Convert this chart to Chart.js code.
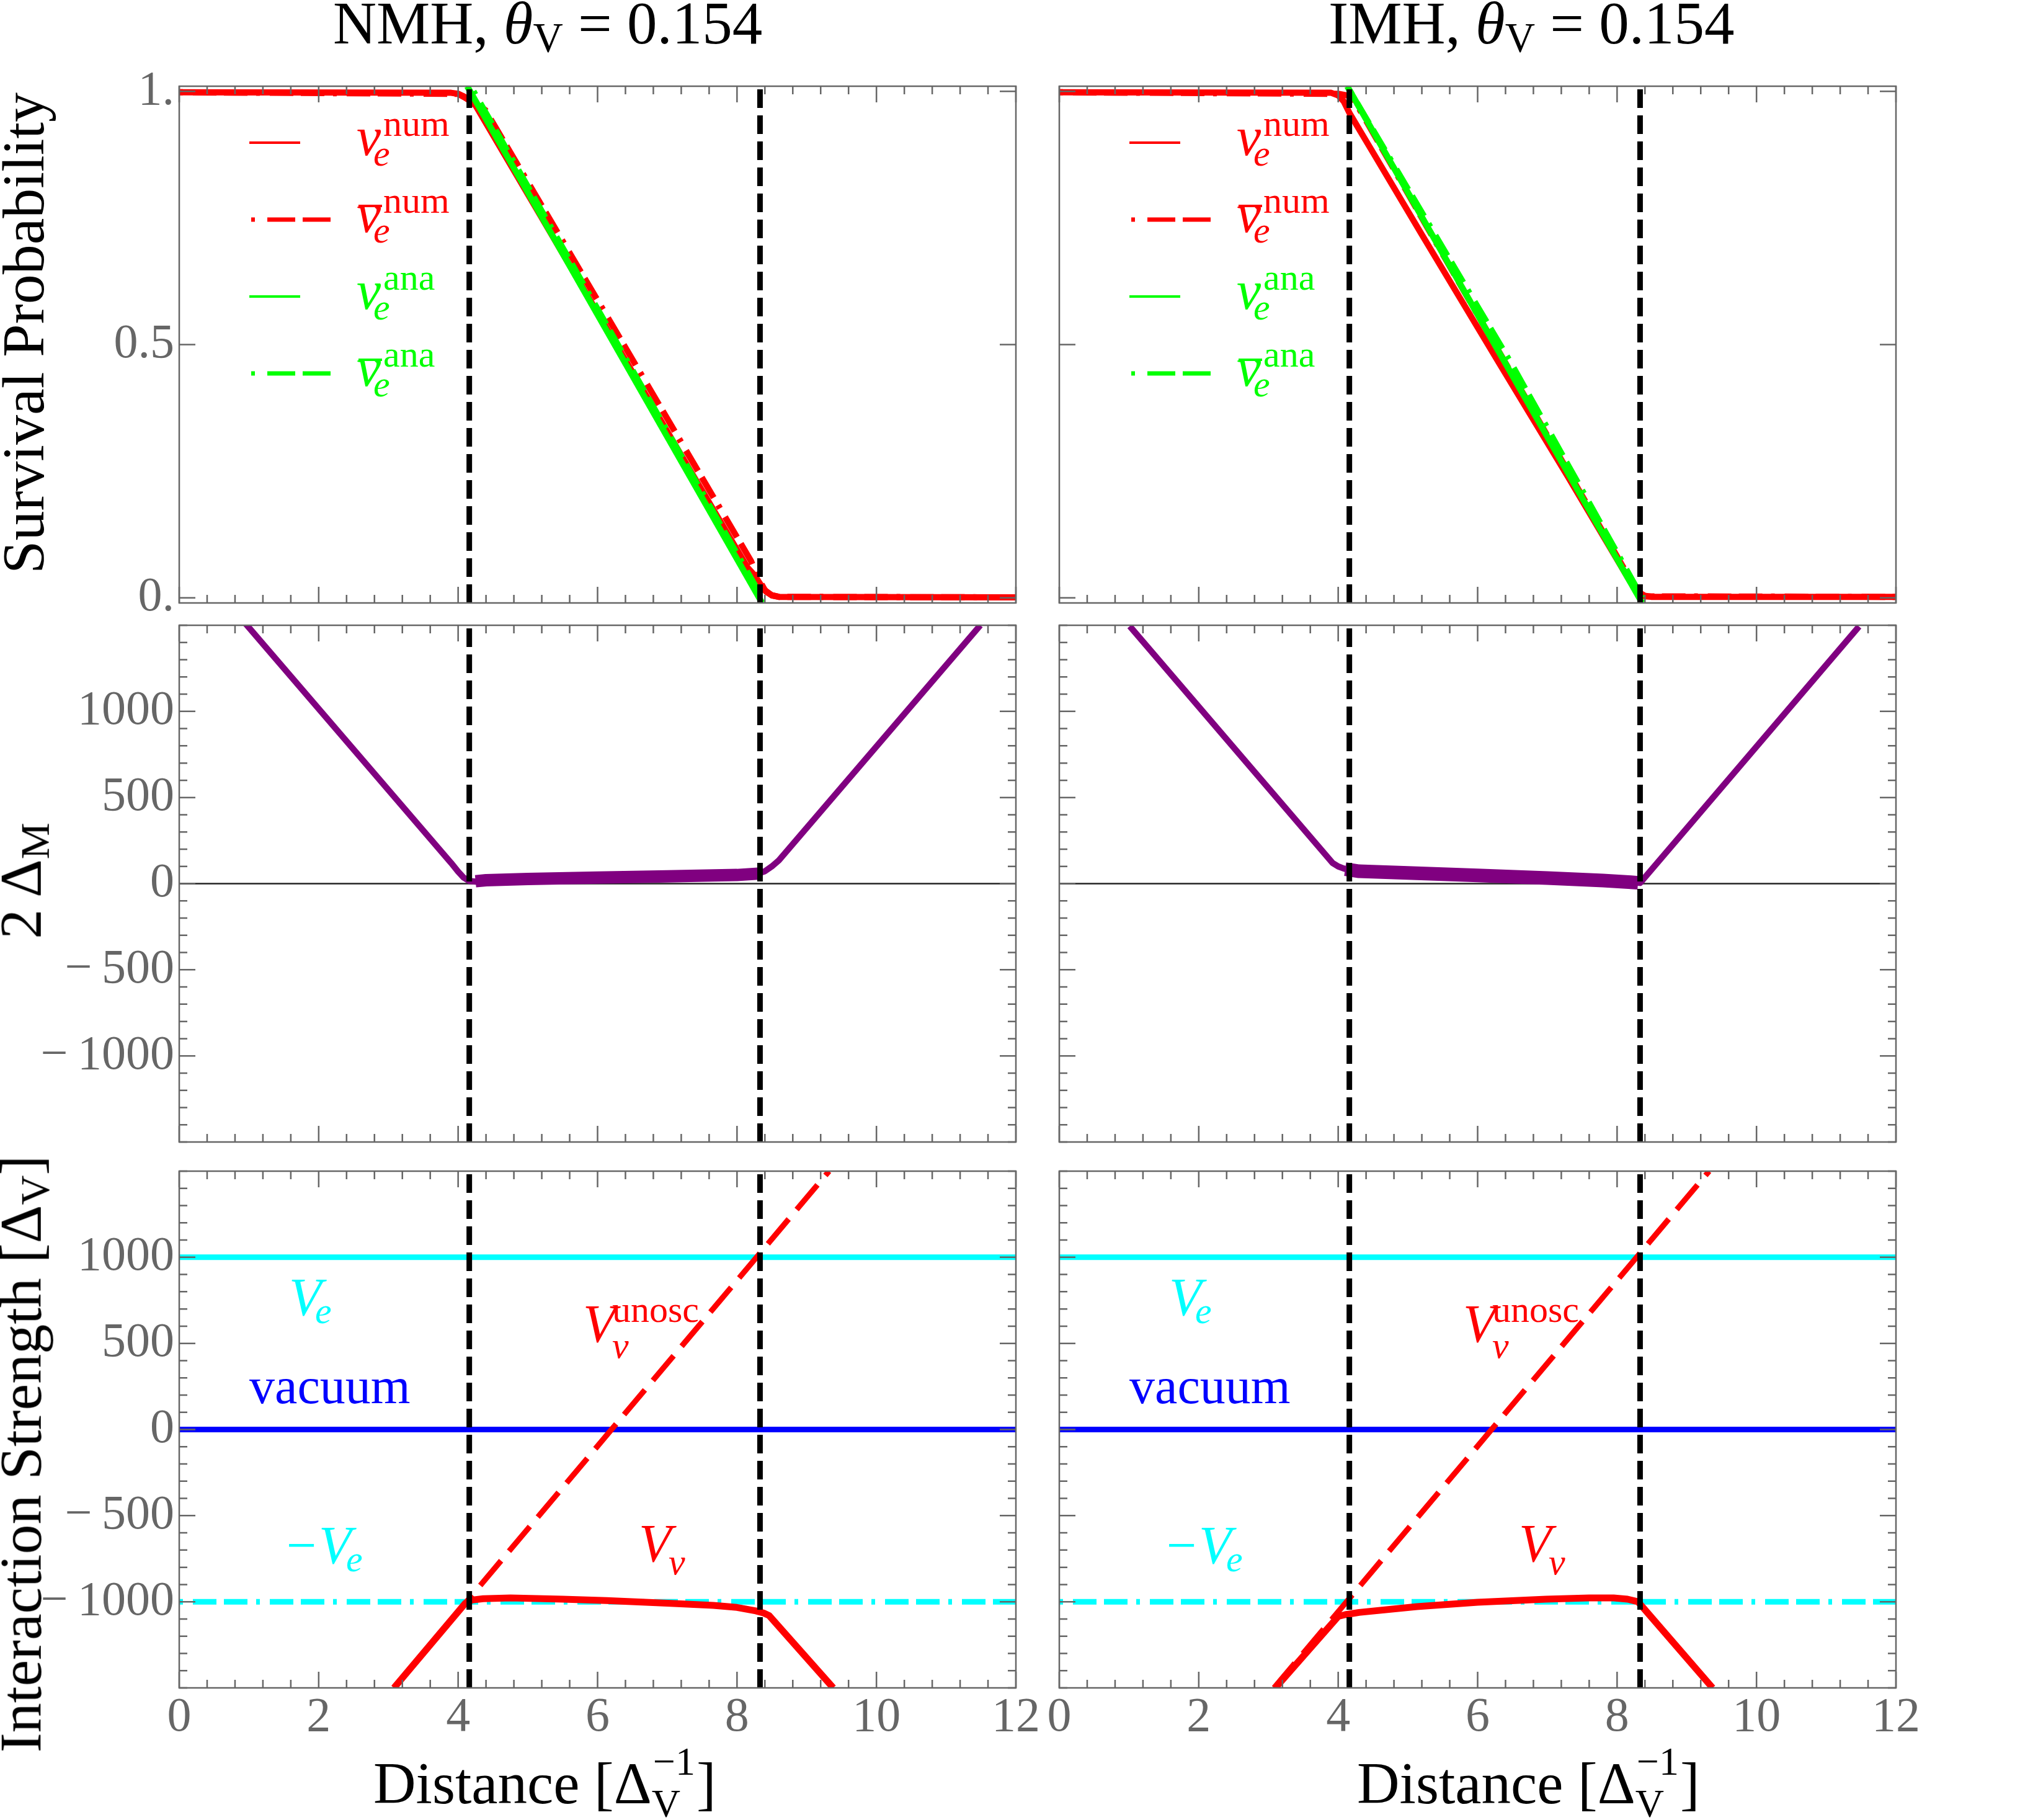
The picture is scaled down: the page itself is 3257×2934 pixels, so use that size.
<!DOCTYPE html>
<html>
<head>
<meta charset="utf-8">
<script src="https://cdn.jsdelivr.net/npm/chart.js@4.4.1/dist/chart.umd.min.js"></script>
<style>
  html, body { margin: 0; padding: 0; background: #fff; }
  body { width: 3257px; height: 2934px; position: relative; overflow: hidden;
         font-family: "Liberation Serif", "Times New Roman", serif; }
  .panel { position: absolute; }
  .t { position: absolute; white-space: nowrap; line-height: 1; }
  .sb { font-size: 0.69em; vertical-align: -0.2em; }
  .rot { position: absolute; white-space: nowrap; line-height: 1; color: #000;
         transform: translate(-50%, -50%) rotate(-90deg); }
</style>
</head>
<body>
<script>
// ---- values ----
const distanceTicks = [0, 2, 4, 6, 8, 10, 12];
const probabilityTicks = [0, 0.5, 1];
const strengthTicks = [-1000, -500, 0, 500, 1000];
const resonanceEdges = [4.16, 8.33];

// survival probability, normal hierarchy
const nmhNuNum = [[0, 0.998], [3.9, 0.997], [4.0, 0.995], [4.08, 0.99], [4.16, 0.982], [4.25, 0.972],
  [5.2, 0.75], [6.34, 0.483], [7.3, 0.258], [8.15, 0.06], [8.25, 0.045], [8.33, 0.028],
  [8.42, 0.012], [8.5, 0.005], [8.6, 0.002], [12, 0.001]];
const nmhNuBarNum = [[0, 0.998], [4.0, 0.995], [4.2, 0.98], [4.39, 0.963], [6.34, 0.508],
  [8.2, 0.073], [8.3, 0.04], [8.4, 0.015], [8.5, 0.005], [8.6, 0.002], [12, 0.001]];
const nmhNuAna = [[4.13, 1.01], [8.36, -0.01]];
const nmhNuBarAna = [[4.22, 1.0], [8.36, 0.0]];

// survival probability, inverted hierarchy
const imhNuNum = [[0, 0.998], [3.9, 0.997], [4.0, 0.992], [4.08, 0.98], [4.17, 0.955], [4.5, 0.879],
  [5.2, 0.717], [6.31, 0.463], [7.3, 0.238], [8.18, 0.034], [8.3, 0.012], [8.4, 0.004],
  [8.5, 0.002], [12, 0.002]];
const imhNuBarNum = [[0, 0.998], [4.0, 0.995], [4.2, 0.99], [5.43, 0.695], [7.06, 0.306],
  [8.3, 0.01], [8.4, 0.003], [12, 0.002]];
const imhNuAna = [[4.13, 1.01], [8.36, -0.01]];
const imhNuBarAna = [[4.17, 1.0], [4.6, 0.9], [6.48, 0.463], [8.36, 0.0]];

// 2 Delta_M
const nmhSplitting = [[0.95, 1510], [3.9, 120], [4.0, 70], [4.08, 35], [4.16, 15], [4.25, 12],
  [4.4, 20], [5.0, 27], [6.0, 35], [7.0, 42], [8.0, 50], [8.3, 58], [8.4, 72], [8.5, 100],
  [8.6, 135], [11.49, 1500]];
const nmhSplittingNoise = [[4.25, 14], [4.4, 20], [5.0, 27], [6.0, 35], [7.0, 42], [8.0, 50], [8.3, 58]];
const imhSplitting = [[1.01, 1495], [3.92, 120], [4.0, 100], [4.08, 88], [4.16, 80], [4.3, 72],
  [5.0, 62], [6.0, 48], [7.0, 32], [7.8, 18], [8.2, 8], [8.33, 4], [11.47, 1493]];
const imhSplittingNoise = [[4.1, 84], [4.3, 72], [5.0, 62], [6.0, 48], [7.0, 32], [7.8, 18], [8.2, 8], [8.3, 5]];
const zeroLevel = [[0, 0], [12, 0]];

// interaction strength
const electronLevel = [[0, 1000], [12, 1000]];
const vacuumLevel = [[0, 0], [12, 0]];
const minusElectronLevel = [[0, -1000], [12, -1000]];
const unoscPotential = [[3.08, -1500], [9.32, 1500]];
const nmhPotential = [[3.08, -1500], [4.1, -1010], [4.2, -990], [4.36, -982], [4.75, -978],
  [5.5, -985], [6.13, -993], [7.0, -1008], [7.66, -1021], [8.0, -1033], [8.27, -1053],
  [8.38, -1065], [8.46, -1080], [9.38, -1500]];
const imhPotential = [[3.1, -1500], [4.0, -1085], [4.1, -1075], [4.3, -1062], [5.13, -1028],
  [6.0, -1003], [6.98, -985], [7.6, -978], [7.95, -978], [8.15, -985], [8.3, -1000], [9.37, -1500]];

// ---- layout ----
const COLS = [289, 1708];
const ROWS = [139, 1008, 1888];
const PLOT_W = 1349;
const PLOT_H = 833;
const PAD = { left: 270, right: 60, top: 60, bottom: 110 };

const RED = "#ff0000", GREEN = "#00ff00", CYAN = "#00ffff", BLUE = "#0000ff", PURPLE = "#800080";
const DOT_DASH = [6, 16, 38, 12, 38, 14];

Chart.defaults.font.family = '"Liberation Serif", "Times New Roman", serif';

function series(points, color, width, dash, order) {
  return {
    data: points.map(([x, y]) => ({ x, y })),
    borderColor: color,
    borderWidth: width,
    borderDash: dash || [],
    borderCapStyle: "butt",
    borderJoinStyle: "round",
    pointRadius: 0,
    fill: false,
    tension: 0,
    clip: 0,
    order,
  };
}

function minorTicks(min, max, step, major) {
  const out = [];
  const n = Math.round((max - min) / step);
  for (let i = 0; i <= n; i++) {
    const v = +(min + i * step).toFixed(6);
    if (!major.some((m) => Math.abs(m - v) < 1e-6)) out.push(v);
  }
  return out;
}

const framePlugin = {
  id: "mmaFrame",
  afterDatasetsDraw(chart) {
    const f = chart.options.plugins.mmaFrame;
    const { ctx, chartArea: a } = chart;
    const xs = chart.scales.x;
    const ys = chart.scales.y;
    ctx.save();
    ctx.strokeStyle = "#666";
    ctx.lineWidth = 2.5;
    ctx.lineCap = "butt";
    ctx.beginPath();
    const xt = (vals, len) => vals.forEach((v) => {
      const p = xs.getPixelForValue(v);
      ctx.moveTo(p, a.bottom); ctx.lineTo(p, a.bottom - len);
      ctx.moveTo(p, a.top); ctx.lineTo(p, a.top + len);
    });
    const yt = (vals, len) => vals.forEach((v) => {
      const p = ys.getPixelForValue(v);
      ctx.moveTo(a.left, p); ctx.lineTo(a.left + len, p);
      ctx.moveTo(a.right, p); ctx.lineTo(a.right - len, p);
    });
    xt(f.xMajor, 26); xt(f.xMinor, 13);
    yt(f.yMajor, 26); yt(f.yMinor, 13);
    ctx.stroke();
    ctx.strokeRect(a.left, a.top, a.right - a.left, a.bottom - a.top);
    ctx.restore();
  },
};

const xMinor = minorTicks(0, 12, 0.4, distanceTicks);
const strengthMinor = minorTicks(-1500, 1500, 100, strengthTicks);

function fmtProb(v) { return v === 0.5 ? "0.5" : v.toFixed(0) + "."; }
function fmtStrength(v) { return v < 0 ? "\u2212\u2009" + Math.abs(v) : String(v); }

function makePanel(col, row, yRange, yTicks, yMinor, yFormat, datasets) {
  const box = document.createElement("div");
  box.className = "panel";
  box.style.left = (COLS[col] - PAD.left) + "px";
  box.style.top = (ROWS[row] - PAD.top) + "px";
  box.style.width = (PLOT_W + PAD.left + PAD.right) + "px";
  box.style.height = (PLOT_H + PAD.top + PAD.bottom) + "px";
  const canvas = document.createElement("canvas");
  box.appendChild(canvas);
  document.body.appendChild(box);

  const edges = resonanceEdges.map((e) =>
    series([[e, yRange[0]], [e, yRange[1]]], "#000", 9, [30, 12], 0));

  new Chart(canvas, {
    type: "line",
    data: { datasets: [...datasets, ...edges] },
    options: {
      responsive: true,
      maintainAspectRatio: false,
      animation: false,
      devicePixelRatio: 1,
      events: [],
      layout: { padding: { left: 0, top: PAD.top, right: PAD.right, bottom: 0 } },
      plugins: {
        legend: { display: false },
        tooltip: { enabled: false },
        mmaFrame: { xMajor: distanceTicks, xMinor, yMajor: yTicks, yMinor },
      },
      scales: {
        x: {
          type: "linear", min: 0, max: 12,
          grid: { display: false, drawTicks: false },
          border: { display: false },
          afterBuildTicks: (s) => { s.ticks = distanceTicks.map((v) => ({ value: v })); },
          afterFit: (s) => { s.height = PAD.bottom; },
          ticks: {
            display: row === 2, autoSkip: false, maxRotation: 0, minRotation: 0, padding: 2,
            color: "#666", font: { size: 78 }, callback: (v) => String(v),
          },
        },
        y: {
          type: "linear", min: yRange[0], max: yRange[1],
          grid: { display: false, drawTicks: false },
          border: { display: false },
          afterBuildTicks: (s) => { s.ticks = yTicks.map((v) => ({ value: v })); },
          afterFit: (s) => { s.width = PAD.left; },
          ticks: {
            display: col === 0, autoSkip: false, padding: 8,
            color: "#666", font: { size: 78 }, callback: yFormat,
          },
        },
      },
    },
    plugins: [framePlugin],
  });
}

const probRange = [-0.01, 1.01];
const strengthRange = [-1500, 1500];

makePanel(0, 0, probRange, probabilityTicks, [], fmtProb, [
  series(nmhNuNum, RED, 10, null, 4),
  series(nmhNuBarNum, RED, 10, DOT_DASH, 3),
  series(nmhNuAna, GREEN, 10, null, 2),
  series(nmhNuBarAna, GREEN, 10, DOT_DASH, 1),
]);
makePanel(1, 0, probRange, probabilityTicks, [], fmtProb, [
  series(imhNuNum, RED, 10, null, 4),
  series(imhNuBarNum, RED, 10, DOT_DASH, 3),
  series(imhNuAna, GREEN, 10, null, 2),
  series(imhNuBarAna, GREEN, 10, DOT_DASH, 1),
]);
makePanel(0, 1, strengthRange, strengthTicks, strengthMinor, fmtStrength, [
  series(zeroLevel, "#222", 2.5, null, 9),
  series(nmhSplittingNoise, PURPLE, 20, null, 3),
  series(nmhSplitting, PURPLE, 10, null, 2),
]);
makePanel(1, 1, strengthRange, strengthTicks, strengthMinor, fmtStrength, [
  series(zeroLevel, "#222", 2.5, null, 9),
  series(imhSplittingNoise, PURPLE, 22, null, 3),
  series(imhSplitting, PURPLE, 10, null, 2),
]);
makePanel(0, 2, strengthRange, strengthTicks, strengthMinor, fmtStrength, [
  series(electronLevel, CYAN, 9, null, 6),
  series(vacuumLevel, BLUE, 9, null, 6),
  series(minusElectronLevel, CYAN, 9, DOT_DASH, 6),
  series(unoscPotential, RED, 9, [52, 20], 3),
  series(nmhPotential, RED, 11, null, 2),
]);
makePanel(1, 2, strengthRange, strengthTicks, strengthMinor, fmtStrength, [
  series(electronLevel, CYAN, 9, null, 6),
  series(vacuumLevel, BLUE, 9, null, 6),
  series(minusElectronLevel, CYAN, 9, DOT_DASH, 6),
  series(unoscPotential, RED, 9, [52, 20], 3),
  series(imhPotential, RED, 11, null, 2),
]);

// ---- text ----
function addText(html, x, base, size, color, italic) {
  const el = document.createElement("div");
  el.className = "t";
  el.innerHTML = html;
  el.style.left = x + "px";
  el.style.top = (base - 0.8375 * size) + "px";
  el.style.fontSize = size + "px";
  el.style.color = color;
  el.style.fontStyle = italic ? "italic" : "normal";
  document.body.appendChild(el);
  return el;
}

function addRotated(html, cx, cy, size) {
  const el = document.createElement("div");
  el.className = "rot";
  el.innerHTML = html;
  el.style.left = cx + "px";
  el.style.top = cy + "px";
  el.style.fontSize = size + "px";
  document.body.appendChild(el);
}

function addBar(x, y, w, color) {
  const el = document.createElement("div");
  el.style.cssText = `position:absolute;left:${x}px;top:${y}px;width:${w}px;height:4px;background:${color}`;
  document.body.appendChild(el);
}

// titles
addText('NMH, <i>\u03b8</i><span class="sb">V</span> = 0.154', 537, 70, 97, "#000", false);
addText('IMH, <i>\u03b8</i><span class="sb">V</span> = 0.154', 2142, 70, 97, "#000", false);

// y axis titles
addRotated("Survival Probability", 38, 537, 96);
addRotated('2 \u0394<span class="sb">M</span>', 38, 1420, 96);
addRotated('Interaction Strength [\u0394<span class="sb">V</span>]', 38, 2344, 96);

// x axis titles
function distanceLabel(x) {
  const main = addText("Distance [\u0394", x, 2908, 95, "#000", false);
  const w = main.getBoundingClientRect().width;
  const sup = addText("\u22121", x + w + 2, 2862, 64, "#000", false);
  const sub = addText("V", x + w, 2930, 64, "#000", false);
  const sw = Math.max(sup.getBoundingClientRect().width + 2, sub.getBoundingClientRect().width);
  addText("]", x + w + sw + 2, 2908, 95, "#000", false);
}
distanceLabel(602);
distanceLabel(2188);

// legends and curve labels
const legendEntries = [
  { color: RED, sup: "num", bar: false },
  { color: RED, sup: "num", bar: true },
  { color: GREEN, sup: "ana", bar: false },
  { color: GREEN, sup: "ana", bar: true },
];

const svgNS = "http://www.w3.org/2000/svg";
const svg = document.createElementNS(svgNS, "svg");
svg.setAttribute("width", "3257");
svg.setAttribute("height", "800");
svg.style.cssText = "position:absolute;left:0;top:0;";
document.body.appendChild(svg);

COLS.forEach((x0) => {
  legendEntries.forEach((e, i) => {
    const ly = 230 + 124 * i;
    const ln = document.createElementNS(svgNS, "line");
    ln.setAttribute("x1", x0 + (e.bar ? 116 : 113));
    ln.setAttribute("x2", x0 + (e.bar ? 248 : 195));
    ln.setAttribute("y1", ly);
    ln.setAttribute("y2", ly);
    ln.setAttribute("stroke", e.color);
    ln.setAttribute("stroke-width", e.bar ? "7" : "4");
    if (e.bar) ln.setAttribute("stroke-dasharray", "6 20 45 12 45");
    svg.appendChild(ln);

    const base = 251 + 124 * i;
    addText("\u03bd", x0 + 286, base, 88, e.color, true);
    addText(e.sup, x0 + 329, base - 32, 60, e.color, false);
    addText("e", x0 + 313, base + 16, 60, e.color, true);
    if (e.bar) addBar(x0 + 289, base - 45, 38, e.color);
  });

  // bottom panel labels
  addText("V", x0 + 177, 2120, 86, CYAN, true);
  addText("e", x0 + 219, 2133, 60, CYAN, true);
  addText("V", x0 + 651, 2163, 86, RED, true);
  addText("unosc", x0 + 698, 2131, 60, RED, false);
  addText("\u03bd", x0 + 698, 2189, 60, RED, true);
  addText("vacuum", x0 + 113, 2263, 82, BLUE, false);
  addText("\u2212", x0 + 173, 2520, 86, CYAN, false);
  addText("V", x0 + 225, 2520, 86, CYAN, true);
  addText("e", x0 + 269, 2533, 60, CYAN, true);
  addText("V", x0 + 741, 2517, 86, RED, true);
  addText("\u03bd", x0 + 789, 2538, 60, RED, true);
});
</script>
</body>
</html>
